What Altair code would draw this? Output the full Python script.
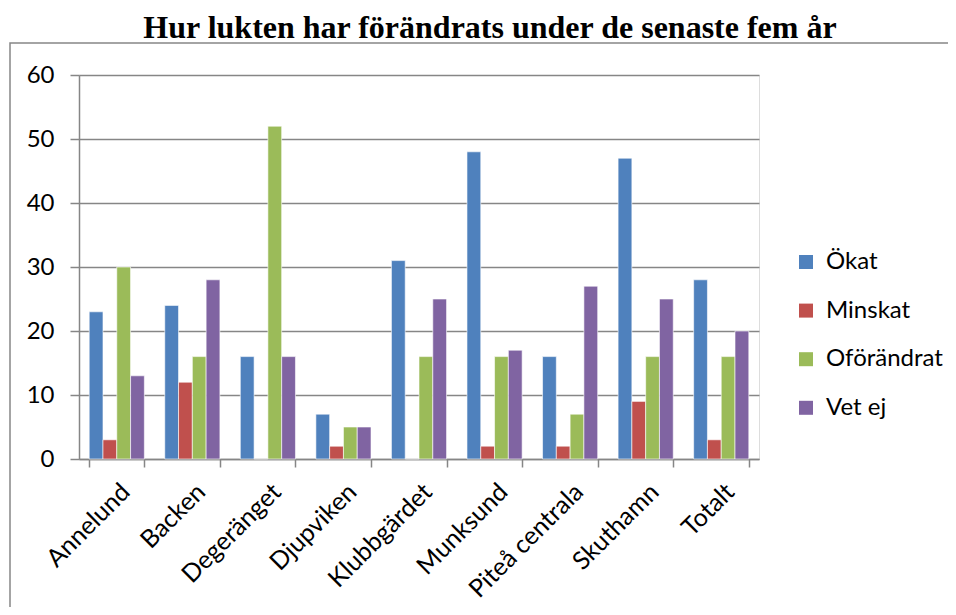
import altair as alt
import pandas as pd

categories = ["Annelund", "Backen", "Degeränget", "Djupviken", "Klubbgärdet",
              "Munksund", "Piteå centrala", "Skuthamn", "Totalt"]
series = ["Ökat", "Minskat", "Oförändrat", "Vet ej"]
okat = [23, 24, 16, 7, 31, 48, 16, 47, 28]
minskat = [3, 12, 0, 2, 0, 2, 2, 9, 3]
oforandrat = [30, 16, 52, 5, 16, 16, 7, 16, 16]
vet_ej = [13, 28, 16, 5, 25, 17, 27, 25, 20]
colors = ["#4F81BD", "#C0504D", "#9BBB59", "#8064A2"]
y_ticks = [0, 10, 20, 30, 40, 50, 60]
title_text = "Hur lukten har förändrats under de senaste fem år"

rows = []
for s, vals in zip(series, [okat, minskat, oforandrat, vet_ej]):
    for c, v in zip(categories, vals):
        rows.append({"Område": c, "Svar": s, "Antal": v})
df = pd.DataFrame(rows)

FONT = "Lato"
GRAY = "#868686"

bars = alt.Chart(df).mark_bar(stroke="white", strokeWidth=0.6).encode(
    x=alt.X("Område:N", sort=categories,
            scale=alt.Scale(paddingInner=0.27, paddingOuter=0.135),
            axis=alt.Axis(title=None, labelAngle=-45, labelAlign="right", labelBaseline="top",
                          labelFontSize=25, labelFont=FONT, labelColor="black",
                          tickBand="extent", tickSize=8, tickColor=GRAY, tickWidth=1.5,
                          domainColor=GRAY, domainWidth=1.5, labelPadding=12, grid=False)),
    xOffset=alt.XOffset("Svar:N", sort=series, scale=alt.Scale(paddingInner=0, paddingOuter=0)),
    y=alt.Y("Antal:Q", scale=alt.Scale(domain=[0, 60], nice=False),
            axis=alt.Axis(title=None, values=y_ticks, labelFontSize=24, labelFont=FONT,
                          labelColor="black", tickSize=9, tickColor=GRAY, tickWidth=1.5,
                          domainColor=GRAY, domainWidth=1.5, gridColor=GRAY, gridWidth=1.5,
                          labelPadding=16)),
    color=alt.Color("Svar:N", sort=series,
                    scale=alt.Scale(domain=series, range=colors),
                    legend=alt.Legend(title=None, orient="none", legendX=715, legendY=175,
                                      symbolType="square", symbolSize=196, symbolStrokeWidth=0,
                                      labelFontSize=24, labelFont=FONT, labelColor="black",
                                      rowPadding=24.6, labelOffset=8)),
)

border = alt.Chart(alt.Data(values=[{}])).mark_rect(
    fill=None, stroke=GRAY, strokeWidth=1.5
).encode(
    x=alt.value(-69), y=alt.value(-32), x2=alt.value(1000), y2=alt.value(700)
)

chart = alt.layer(border, bars).properties(
    width=680, height=384,
    title=alt.TitleParams(title_text, font="Liberation Serif", fontSize=32, fontWeight="bold",
                          anchor="middle", dx=71, offset=-3, color="black"),
    autosize=alt.AutoSizeParams(type="none"),
    padding={"left": 71, "top": 67, "right": 189, "bottom": 148},
).configure_view(stroke=None).configure(background="white")

chart.save("out.html", embed_options={"renderer": "svg", "actions": False})
